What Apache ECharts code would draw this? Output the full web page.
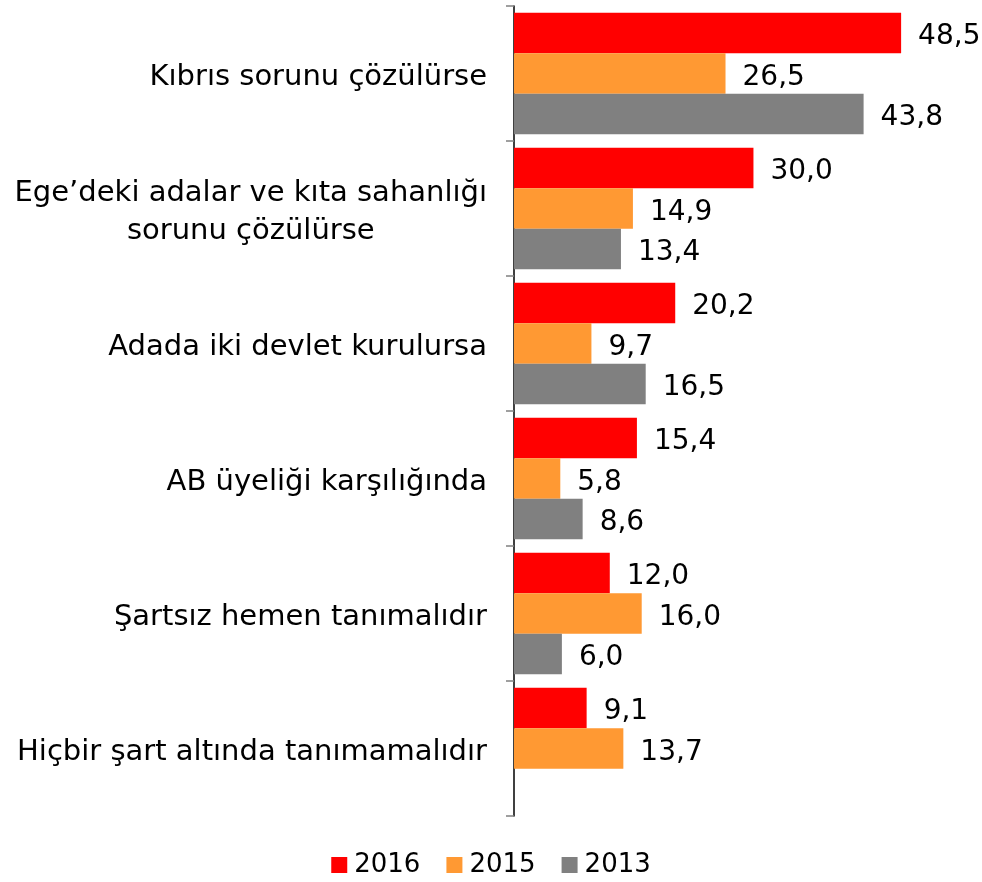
<!DOCTYPE html>
<html>
<head>
<meta charset="utf-8">
<script src="https://cdn.jsdelivr.net/npm/echarts@6/dist/echarts.min.js"></script>
<style>
  html, body { margin: 0; padding: 0; background: #fff; }
  #chart { width: 982px; height: 882px; }
</style>
</head>
<body>
<div id="chart"></div>
<script>
// kategoriler (yukaridan asagi)
const categories = [
  'Kıbrıs sorunu çözülürse',
  'Ege’deki adalar ve kıta sahanlığı\nsorunu çözülürse',
  'Adada iki devlet kurulursa',
  'AB üyeliği karşılığında',
  'Şartsız hemen tanımalıdır',
  'Hiçbir şart altında tanımamalıdır'
]
const years = ['2016', '2015', '2013']
const values2016 = [48.5, 30.0, 20.2, 15.4, 12.0, 9.1]
const values2015 = [26.5, 14.9, 9.7, 5.8, 16.0, 13.7]
const values2013 = [43.8, 13.4, 16.5, 8.6, 6.0, null]
const colors = ['#ff0000', '#ff9933', '#808080']

const font = '"DejaVu Sans", Verdana, sans-serif'
const chart = echarts.init(document.getElementById('chart'))

function makeSeries(name, data, color) {
  return {
    name: name,
    type: 'bar',
    data: data,
    barGap: 0,
    barCategoryGap: '10%',
    itemStyle: { color: color },
    label: {
      show: true,
      position: 'right',
      distance: 17,
      offset: [0, 4],
      color: '#000',
      fontSize: 28,
      fontFamily: font,
      formatter: p => p.value == null ? '' : p.value.toFixed(1).replace('.', ',')
    }
  }
}

chart.setOption({
  animation: false,
  textStyle: { fontFamily: font },
  legend: {
    top: 847,
    left: 'center',
    itemWidth: 16,
    itemHeight: 16,
    itemGap: 26,
    icon: 'rect',
    textStyle: { fontSize: 26, color: '#000', fontFamily: font, padding: [0, 0, 0, 2] },
    data: years
  },
  grid: {
    left: 514,
    right: 29,
    top: 6,
    bottom: 66,
    containLabel: false
  },
  xAxis: {
    type: 'value',
    min: 0,
    max: 55,
    show: false
  },
  yAxis: {
    type: 'category',
    inverse: true,
    data: categories,
    axisLine: { show: true, lineStyle: { color: '#000', width: 1.5 } },
    axisTick: { show: true, length: 8, lineStyle: { color: '#808080', width: 1.5 } },
    axisLabel: {
      margin: 27,
      color: '#000',
      align: 'right',
      padding: [8, 0, 0, 0],
      formatter: v => v.split('\n').map(s => '{c|' + s + '}').join('\n'),
      rich: {
        c: {
          fontSize: 29,
          fontFamily: font,
          color: '#000',
          align: 'center',
          lineHeight: 38
        }
      }
    }
  },
  series: [
    makeSeries(years[0], values2016, colors[0]),
    makeSeries(years[1], values2015, colors[1]),
    makeSeries(years[2], values2013, colors[2])
  ]
})
</script>
</body>
</html>
